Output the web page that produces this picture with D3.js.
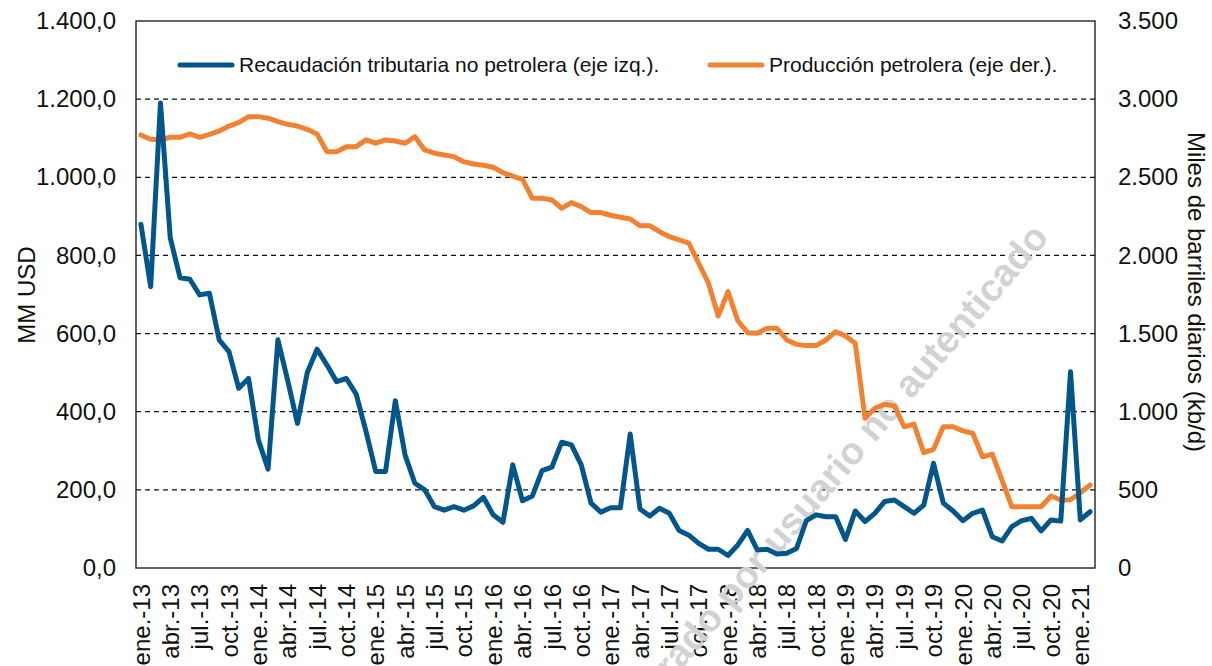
<!DOCTYPE html>
<html>
<head>
<meta charset="utf-8">
<script src="https://cdn.jsdelivr.net/npm/d3@7"></script>
<style>
  html, body { margin: 0; padding: 0; background: #fff; }
  svg { display: block; font-family: "Liberation Sans", Arial, sans-serif; }
  .tick-lbl { font-size: 24px; fill: #111; }
  .legend-lbl { font-size: 21px; fill: #111; }
</style>
</head>
<body>
<svg id="chart" width="1212" height="666"></svg>
<script>
// Meses (categorías) y años
const monthNames = ['ene.', 'feb.', 'mar.', 'abr.', 'may.', 'jun.', 'jul.', 'ago.', 'sep.', 'oct.', 'nov.', 'dic.'];
const years = ['13', '14', '15', '16', '17', '18', '19', '20', '21'];
const categories = [];
years.forEach(y => monthNames.forEach(m => categories.push(m + '-' + y)));
categories.length = 98; // ene.-13 ... feb.-21

// Recaudación tributaria no petrolera (MM USD, eje izq.)
const recaudacion = [
  880, 720, 1190, 845, 743, 739, 699, 703, 584, 554, 460, 485,
  328, 253, 584, 480, 370, 500, 560, 520, 477, 485, 445, 350,
  247, 247, 428, 289, 217, 200, 157, 148, 157, 148, 159, 181,
  136, 117, 264, 172, 184, 249, 258, 322, 315, 264, 166, 143,
  154, 154, 343, 151, 133, 153, 140, 96, 84, 63, 48, 48,
  32, 59, 96, 46, 48, 36, 38, 50, 121, 136, 131, 131,
  73, 146, 119, 140, 170, 174, 157, 140, 161, 268, 166, 146,
  121, 140, 148, 80, 69, 106, 121, 127, 95, 123, 120, 502,
  123, 144
];

// Producción petrolera (miles de barriles diarios, eje der.)
const produccion = [
  2771, 2743, 2739, 2756, 2756, 2777, 2756, 2775, 2796, 2828, 2850, 2888,
  2888, 2878, 2856, 2839, 2828, 2807, 2777, 2664, 2664, 2696, 2696, 2739,
  2718, 2739, 2732, 2718, 2760, 2675, 2654, 2643, 2632, 2600, 2585, 2577,
  2564, 2530, 2508, 2487, 2366, 2366, 2355, 2302, 2338, 2312, 2274, 2274,
  2257, 2244, 2233, 2190, 2190, 2152, 2120, 2099, 2078, 1950, 1822, 1613,
  1768, 1582, 1506, 1502, 1534, 1534, 1459, 1431, 1423, 1423, 1459, 1512,
  1485, 1438, 958, 1022, 1047, 1037, 904, 921, 738, 759, 904, 904,
  877, 862, 712, 729, 563, 392, 392, 392, 392, 461, 435, 436,
  482, 531
];

const leftTicks = [0, 200, 400, 600, 800, 1000, 1200, 1400];
const rightTicks = [0, 500, 1000, 1500, 2000, 2500, 3000, 3500];
const legendLabels = ['Recaudación tributaria no petrolera (eje izq.).', 'Producción petrolera (eje der.).'];

const BLUE = '#02568A';
const ORANGE = '#F08232';

const svg = d3.select('#chart');
const plot = { left: 136, right: 1095, top: 21, bottom: 568 };

const loc = d3.formatLocale({ decimal: ',', thousands: '.', grouping: [3], currency: ['', ''] });
const fmtL = loc.format(',.1f');
const fmtR = loc.format(',.0f');

const x = d3.scaleBand().domain(d3.range(categories.length)).range([plot.left, plot.right]);
const cx = i => x(i) + x.bandwidth() / 2;
const yL = d3.scaleLinear().domain([0, 1400]).range([plot.bottom, plot.top]);
const yR = d3.scaleLinear().domain([0, 3500]).range([plot.bottom, plot.top]);

// gridlines
svg.append('g').selectAll('line').data(leftTicks.filter(t => t > 0 && t < 1400)).enter()
  .append('line')
  .attr('x1', plot.left).attr('x2', plot.right)
  .attr('y1', d => yL(d)).attr('y2', d => yL(d))
  .attr('stroke', '#111').attr('stroke-width', 1.3).attr('stroke-dasharray', '5,4');

// plot box
svg.append('rect')
  .attr('x', plot.left).attr('y', plot.top)
  .attr('width', plot.right - plot.left).attr('height', plot.bottom - plot.top)
  .attr('fill', 'none').attr('stroke', '#111').attr('stroke-width', 1.3);

// left axis labels
const axL = d3.axisLeft(yL).tickValues(leftTicks).tickFormat(fmtL).tickSize(0).tickPadding(20);
const gL = svg.append('g').attr('transform', `translate(${plot.left},0)`).call(axL);
gL.select('.domain').remove();
gL.selectAll('text').attr('class', 'tick-lbl').attr('font-size', null).attr('font-family', null);

// right axis labels
const axR = d3.axisRight(yR).tickValues(rightTicks).tickFormat(fmtR).tickSize(0).tickPadding(23);
const gR = svg.append('g').attr('transform', `translate(${plot.right},0)`).call(axR);
gR.select('.domain').remove();
gR.selectAll('text').attr('class', 'tick-lbl').attr('font-size', null).attr('font-family', null);

// x labels every 3 months
const xIdx = d3.range(0, categories.length, 3);
svg.append('g').selectAll('text').data(xIdx).enter()
  .append('text')
  .attr('class', 'tick-lbl')
  .attr('transform', d => `translate(${cx(d)},584) rotate(-90)`)
  .attr('text-anchor', 'end')
  .attr('dy', '0.36em')
  .text(d => categories[d]);

// axis titles
svg.append('text').attr('class', 'tick-lbl')
  .attr('transform', 'translate(35,295) rotate(-90)')
  .attr('text-anchor', 'middle')
  .text('MM USD');
svg.append('text').attr('class', 'tick-lbl')
  .attr('transform', 'translate(1188,292) rotate(90)')
  .attr('text-anchor', 'middle')
  .text('Miles de barriles diarios (kb/d)');

// watermark
svg.append('text')
  .attr('transform', 'translate(1050,238) rotate(-49.5)')
  .attr('text-anchor', 'end')
  .attr('font-size', 38).attr('font-weight', 'bold')
  .attr('fill', '#d2d2d2')
  .text('Generado por usuario no autenticado');

// lines
const lineL = d3.line().x((d, i) => cx(i)).y(d => yL(d));
const lineR = d3.line().x((d, i) => cx(i)).y(d => yR(d));

svg.append('path').datum(produccion)
  .attr('d', lineR).attr('fill', 'none')
  .attr('stroke', ORANGE).attr('stroke-width', 5).attr('stroke-linejoin', 'round').attr('stroke-linecap', 'round');
svg.append('path').datum(recaudacion)
  .attr('d', lineL).attr('fill', 'none')
  .attr('stroke', BLUE).attr('stroke-width', 5).attr('stroke-linejoin', 'round').attr('stroke-linecap', 'round');

// legend
const legend = [
  { x: 180, color: BLUE, label: legendLabels[0] },
  { x: 710, color: ORANGE, label: legendLabels[1] }
];
const lg = svg.append('g').selectAll('g').data(legend).enter().append('g')
  .attr('transform', d => `translate(${d.x},65)`);
lg.append('line').attr('x1', 0).attr('x2', 52).attr('y1', 0).attr('y2', 0)
  .attr('stroke', d => d.color).attr('stroke-width', 5).attr('stroke-linecap', 'round');
lg.append('text').attr('class', 'legend-lbl')
  .attr('x', 59).attr('dy', '0.35em')
  .text(d => d.label);
</script>
</body>
</html>
